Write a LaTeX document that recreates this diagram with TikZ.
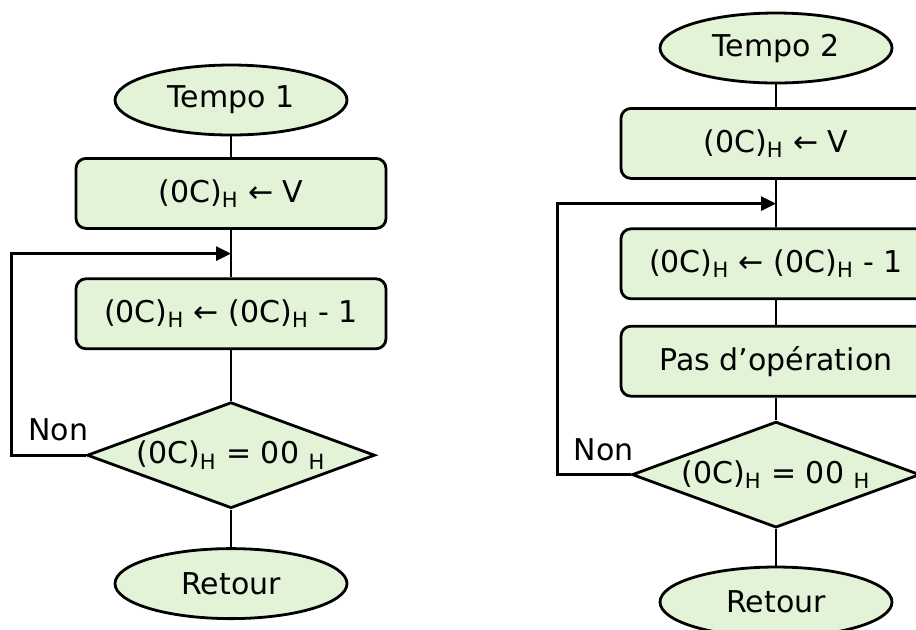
\documentclass[tikz,border=0pt]{standalone}
\usepackage{fontspec}
\setmainfont{DejaVu Sans}
\usepackage{tikz}
\usetikzlibrary{shapes.geometric, arrows.meta, positioning, calc}
\definecolor{boxfill}{HTML}{E2F3D8}
\newcommand{\hx}{\textsubscript{H}}
\tikzset{
  terminal/.style={
    ellipse, draw=black, line width=1.4pt,
    minimum width=116pt, minimum height=35pt, inner sep=0pt,
    fill=boxfill, font=\fontsize{15}{17}\selectfont,
  },
  process/.style={
    rectangle, rounded corners=5pt,
    minimum width=155pt, minimum height=35pt, inner sep=0pt,
    text centered, draw=black, line width=1.4pt,
    fill=boxfill, font=\fontsize{15}{17}\selectfont,
  },
  decision/.style={
    diamond, aspect=2.7,
    minimum width=144pt, minimum height=53pt, inner sep=0pt,
    text centered, draw=black, line width=1.4pt,
    fill=boxfill, font=\fontsize{15}{17}\selectfont,
  },
  line/.style={line width=1.4pt, draw=black},
  arrow/.style={line, -{Triangle[length=7.5pt, width=7pt]}},
  answer/.style={font=\fontsize{15}{17}\selectfont, above, yshift=3pt},
}

\begin{document}
\begin{tikzpicture}[x=0.5pt, y=-0.5pt]

  \useasboundingbox (0,0) rectangle (916,629);
  \clip (0,0) rectangle (916,629);

  % Tempo 1
  \node[terminal] (tempo1) at (231,100) {Tempo 1};
  \node[process, below=10.3pt of tempo1] (load1) {(0C)\hx{} ← V};
  \node[process, below=23.8pt of load1] (dec1) {(0C)\hx{} ← (0C)\hx{} - 1};
  \node[decision, below=25.3pt of dec1] (test1) {(0C)\hx{} = 00 \hx};
  \node[terminal, below=18.8pt of test1] (ret1) {Retour};
  \coordinate (in1) at ($(load1.south)!0.5!(dec1.north)$);

  \draw[line] (tempo1) -- (load1);
  \draw[line] (load1) -- (dec1);
  \draw[line] (dec1) -- (test1);
  \draw[line] (test1) -- (ret1);
  \draw[arrow] (test1.west) -- node[answer, pos=0.37]{Non} ++(-74,0) |- (in1);

  % Tempo 2
  \node[terminal] (tempo2) at (776,48) {Tempo 2};
  \node[process, below=11.3pt of tempo2] (load2) {(0C)\hx{} ← V};
  \node[process, below=23.8pt of load2] (dec2) {(0C)\hx{} ← (0C)\hx{} - 1};
  \node[process, below=12.3pt of dec2] (nop2) {Pas d’opération};
  \node[decision, below=11.3pt of nop2] (test2) {(0C)\hx{} = 00 \hx};
  \node[terminal, below=18.3pt of test2] (ret2) {Retour};
  \coordinate (in2) at ($(load2.south)!0.5!(dec2.north)$);

  \draw[line] (tempo2) -- (load2);
  \draw[line] (load2) -- (dec2);
  \draw[line] (dec2) -- (nop2);
  \draw[line] (nop2) -- (test2);
  \draw[line] (test2) -- (ret2);
  \draw[arrow] (test2.west) -- node[answer, pos=0.37]{Non} ++(-73,0) |- (in2);

\end{tikzpicture}
\end{document}
